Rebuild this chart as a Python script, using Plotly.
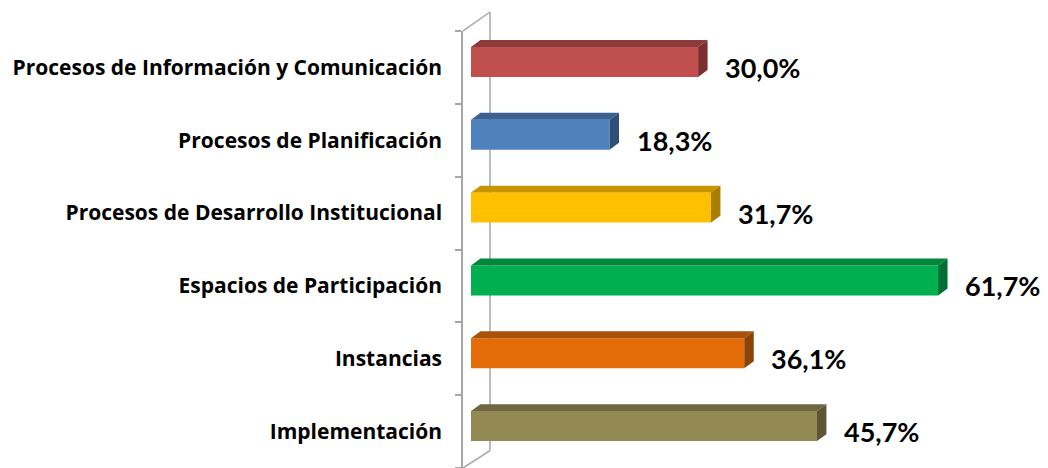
import plotly.graph_objects as go

categories = [
    "Procesos de Información y Comunicación",
    "Procesos de Planificación",
    "Procesos de Desarrollo Institucional",
    "Espacios de Participación",
    "Instancias",
    "Implementación",
]
values = [30.0, 18.3, 31.7, 61.7, 36.1, 45.7]
value_labels = ["30,0%", "18,3%", "31,7%", "61,7%", "36,1%", "45,7%"]

front_colors = ["#C0504D", "#4F81BD", "#FFC000", "#00B050", "#E36C09", "#938953"]
top_colors = ["#8E3A38", "#3A6192", "#C79500", "#00883D", "#A9520A", "#6E6741"]
side_colors = ["#7A302E", "#2F4F78", "#A87E00", "#006F32", "#8B4408", "#5C5637"]

# 3D 風の見た目 (データ単位)
FACE_OFFSET = -0.075   # 前面の中心をカテゴリ中心から少し上へ
FACE_HALF = 0.206      # 前面の半分の高さ
DEPTH_X = 1.25         # 奥行き (x 方向, %)
DEPTH_Y = 0.096        # 奥行き (y 方向, カテゴリ単位)

X_MIN, X_MAX = -1.057, 76.22
GRAY = "#A6A6A6"

# ページの body には既定で 8px の余白が付くため、その分だけ図を小さくする
PAGE_PAD = 8

fig = go.Figure()

for i, (v, fc, tc, sc) in enumerate(zip(values, front_colors, top_colors, side_colors)):
    yc = i + FACE_OFFSET
    yt = yc - FACE_HALF
    yb = yc + FACE_HALF
    # 上面
    fig.add_trace(go.Scatter(
        x=[0, v, v + DEPTH_X, DEPTH_X, 0],
        y=[yt, yt, yt - DEPTH_Y, yt - DEPTH_Y, yt],
        fill="toself", fillcolor=tc, mode="lines", line=dict(width=0),
        hoverinfo="skip", showlegend=False,
    ))
    # 側面
    fig.add_trace(go.Scatter(
        x=[v, v + DEPTH_X, v + DEPTH_X, v, v],
        y=[yt, yt - DEPTH_Y, yb - DEPTH_Y, yb, yt],
        fill="toself", fillcolor=sc, mode="lines", line=dict(width=0),
        hoverinfo="skip", showlegend=False,
    ))
    # 前面
    fig.add_trace(go.Bar(
        x=[v], y=[yc], base=0, orientation="h", width=2 * FACE_HALF,
        marker=dict(color=fc, line=dict(width=0)),
        showlegend=False, hoverinfo="skip",
    ))
    fig.add_annotation(
        x=v, y=i, text=value_labels[i], showarrow=False,
        xanchor="left", xshift=25,
        font=dict(family="Lato", size=27, color="#000000", weight="bold"),
    )

# 奥の壁と床の線
wall_x = X_MIN + 27 / 7.57
fig.add_shape(type="line", xref="x", yref="paper", x0=X_MIN, y0=1.0, x1=wall_x, y1=1.0435,
              line=dict(color=GRAY, width=1.5), layer="below")
fig.add_shape(type="line", xref="x", yref="paper", x0=wall_x, y0=1.0435, x1=wall_x, y1=0.04,
              line=dict(color=GRAY, width=1.5), layer="below")
fig.add_shape(type="line", xref="x", yref="paper", x0=wall_x, y0=0.04, x1=X_MIN, y1=0.0,
              line=dict(color=GRAY, width=1.5), layer="below")

fig.update_layout(
    width=1048 - PAGE_PAD,
    height=468 - PAGE_PAD,
    margin=dict(l=463 - PAGE_PAD, r=0, t=31 - PAGE_PAD, b=0, autoexpand=False),
    plot_bgcolor="white",
    paper_bgcolor="white",
    barmode="overlay",
    xaxis=dict(range=[X_MIN, X_MAX], visible=False, showgrid=False, zeroline=False,
               automargin=False),
    yaxis=dict(
        range=[len(categories) - 0.5, -0.5],
        tickvals=list(range(len(categories))),
        ticktext=categories,
        ticks="",
        ticklabelstandoff=15,
        automargin=False,
        showline=True, linecolor=GRAY, linewidth=1.5,
        showgrid=False, zeroline=False,
        tickfont=dict(family="Open Sans", size=21, color="#000000", weight="bold"),
        minor=dict(
            tickvals=[k - 0.5 for k in range(len(categories) + 1)],
            ticks="outside", ticklen=6, tickcolor=GRAY, tickwidth=1.5, showgrid=False,
        ),
    ),
)

fig.write_html("out.html")
